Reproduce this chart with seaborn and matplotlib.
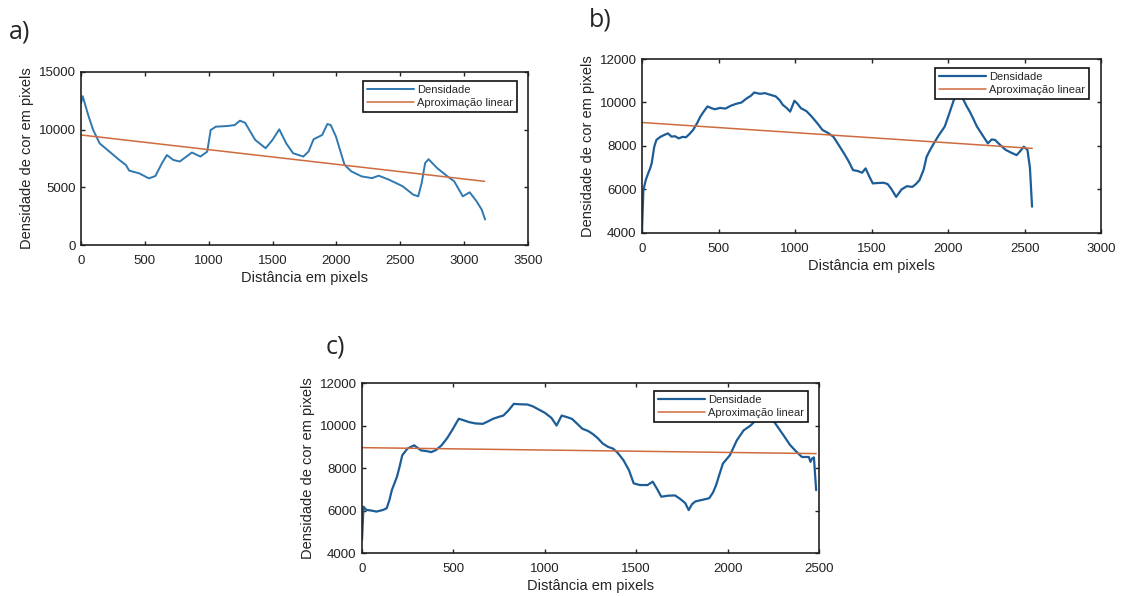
import matplotlib
matplotlib.use("Agg")
import matplotlib.pyplot as plt
import seaborn as sns
import pandas as pd

# ---------------- data ----------------
# Panel a
a_x = [0, 13, 56, 95, 146, 223, 300, 351, 377, 454, 531, 582, 633, 672, 723, 773, 868, 935,
       988, 1015, 1056, 1150, 1203, 1244, 1284, 1364, 1445, 1499, 1552, 1606, 1660, 1740,
       1781, 1821, 1888, 1929, 1955, 1996, 2063, 2117, 2197, 2278, 2331, 2412, 2519, 2600,
       2640, 2667, 2694, 2721, 2788, 2869, 2922, 2989, 3043, 3097, 3137, 3164]
a_y = [12300, 12900, 11270, 9970, 8810, 8090, 7370, 6940, 6450, 6220, 5780, 5980, 7080, 7800,
       7370, 7240, 8020, 7670, 8100, 9970, 10260, 10320, 10400, 10780, 10600, 9110, 8390,
       9110, 10030, 8820, 7960, 7670, 8100, 9170, 9540, 10490, 10400, 9400, 6950, 6380,
       5950, 5800, 6010, 5660, 5090, 4370, 4220, 5370, 7100, 7440, 6670, 5950, 5520, 4220,
       4570, 3790, 3070, 2210]
a_fit_x = [0, 3160]
a_fit_y = [9540, 5520]

# Panel b
b_x = [0, 9, 25, 40, 52, 63, 80, 94, 120, 146, 169, 193, 215, 240, 265, 287, 310, 334, 360,
       381, 405, 428, 450, 475, 510, 545, 580, 615, 650, 686, 710, 733, 770, 803, 840, 874,
       900, 920, 945, 968, 996, 1015, 1038, 1075, 1109, 1145, 1179, 1215, 1250, 1285, 1320,
       1350, 1379, 1410, 1438, 1461, 1485, 1508, 1545, 1579, 1605, 1626, 1661, 1696, 1730,
       1767, 1790, 1813, 1840, 1860, 1885, 1907, 1940, 1978, 2001, 2037, 2065, 2095, 2120,
       2142, 2165, 2189, 2225, 2260, 2285, 2307, 2340, 2377, 2410, 2448, 2470, 2495, 2519,
       2535, 2549]
b_y = [4120, 5970, 6450, 6740, 6950, 7200, 7970, 8280, 8420, 8510, 8580, 8430, 8450, 8350,
       8420, 8400, 8550, 8740, 9050, 9350, 9600, 9820, 9750, 9690, 9750, 9720, 9850, 9940,
       10000, 10200, 10300, 10460, 10400, 10430, 10350, 10280, 10100, 9890, 9750, 9580,
       10080, 9950, 9740, 9600, 9350, 9050, 8740, 8600, 8430, 8050, 7660, 7300, 6890, 6850,
       6770, 6970, 6600, 6280, 6300, 6310, 6250, 6060, 5660, 6000, 6150, 6120, 6250, 6430,
       6900, 7510, 7850, 8120, 8500, 8890, 9350, 10100, 10600, 10200, 9850, 9580, 9250, 8890,
       8500, 8120, 8300, 8280, 8050, 7820, 7700, 7580, 7750, 7970, 7820, 7000, 5210]
b_fit_x = [0, 2550]
b_fit_y = [9080, 7890]

# Panel c
c_x = [0, 8, 23, 50, 79, 116, 135, 150, 163, 191, 205, 220, 248, 285, 323, 350, 379, 405,
       435, 465, 492, 529, 555, 586, 620, 661, 690, 717, 745, 773, 800, 830, 865, 905, 935,
       961, 1000, 1036, 1064, 1092, 1120, 1149, 1175, 1205, 1235, 1261, 1290, 1317, 1345,
       1374, 1400, 1430, 1460, 1486, 1520, 1562, 1590, 1615, 1637, 1675, 1712, 1740, 1768,
       1787, 1805, 1824, 1860, 1899, 1920, 1937, 1955, 1974, 2012, 2050, 2087, 2125, 2160,
       2200, 2240, 2275, 2312, 2340, 2369, 2406, 2444, 2453, 2462, 2472, 2484]
c_y = [4620, 6180, 6030, 6000, 5950, 6030, 6110, 6500, 6960, 7590, 8050, 8600, 8910, 9070,
       8830, 8800, 8750, 8850, 9070, 9400, 9770, 10320, 10250, 10160, 10100, 10080, 10200,
       10320, 10400, 10470, 10700, 11020, 11000, 10990, 10900, 10780, 10600, 10360, 10000,
       10470, 10400, 10310, 10100, 9850, 9750, 9610, 9400, 9150, 9000, 8910, 8700, 8370,
       7900, 7280, 7200, 7200, 7360, 7000, 6650, 6700, 6710, 6550, 6350, 6020, 6300, 6430,
       6500, 6580, 6850, 7200, 7700, 8210, 8600, 9300, 9770, 10000, 10300, 10450, 10350,
       9920, 9460, 9100, 8830, 8520, 8520, 8290, 8450, 8500, 6960]
c_fit_x = [0, 2484]
c_fit_y = [8960, 8680]

legend_labels = ["Densidade", "Aproximação linear"]
xlabel = "Distância em pixels"
ylabel = "Densidade de cor em pixels"

# ---------------- style ----------------
sns.set_style("ticks")
plt.rcParams["font.family"] = ["Liberation Sans", "DejaVu Sans"]
plt.rcParams["xtick.direction"] = "in"
plt.rcParams["ytick.direction"] = "in"
plt.rcParams["xtick.top"] = True
plt.rcParams["ytick.right"] = True
plt.rcParams["axes.edgecolor"] = "#222222"
plt.rcParams["axes.linewidth"] = 1.2

BLUE_A = "#2f78b0"
BLUE_BC = "#1d5d97"
ORANGE = "#cf6a3f"

fig = plt.figure(figsize=(11.24, 5.96), dpi=100)
fig.patch.set_facecolor("white")

panels = [
    dict(rect=[0.0721, 0.5889, 0.3977, 0.2903], x=a_x, y=a_y, fx=a_fit_x, fy=a_fit_y,
         xlim=(0, 3500), xt=range(0, 3501, 500), ylim=(0, 15000), yt=range(0, 15001, 5000),
         color=BLUE_A, lw=1.4, leg=(0.975, 0.948), tag="a)", tagpos=(0.008, 0.968)),
    dict(rect=[0.5712, 0.6091, 0.4084, 0.2919], x=b_x, y=b_y, fx=b_fit_x, fy=b_fit_y,
         xlim=(0, 3000), xt=range(0, 3001, 500), ylim=(4000, 12000), yt=range(4000, 12001, 2000),
         color=BLUE_BC, lw=1.6, leg=(0.974, 0.948), tag="b)", tagpos=(0.524, 0.987)),
    dict(rect=[0.3221, 0.0721, 0.4066, 0.2852], x=c_x, y=c_y, fx=c_fit_x, fy=c_fit_y,
         xlim=(0, 2500), xt=range(0, 2501, 500), ylim=(4000, 12000), yt=range(4000, 12001, 2000),
         color=BLUE_BC, lw=1.6, leg=(0.976, 0.953), tag="c)", tagpos=(0.29, 0.438)),
]

for p in panels:
    ax = fig.add_axes(p["rect"])
    dens = pd.DataFrame({"x": p["x"], "y": p["y"]})
    fit = pd.DataFrame({"x": p["fx"], "y": p["fy"]})
    sns.lineplot(data=dens, x="x", y="y", ax=ax, color=p["color"], lw=p["lw"],
                 label=legend_labels[0], estimator=None, sort=False)
    sns.lineplot(data=fit, x="x", y="y", ax=ax, color=ORANGE, lw=1.1,
                 label=legend_labels[1], estimator=None, sort=False)
    ax.set_xlim(*p["xlim"])
    ax.set_ylim(*p["ylim"])
    ax.set_xticks(list(p["xt"]))
    ax.set_yticks(list(p["yt"]))
    ax.tick_params(labelsize=9.5, length=3, width=1, colors="#222222")
    ax.tick_params(axis="x", pad=7)
    ax.tick_params(axis="y", pad=4)
    ax.set_xlabel(xlabel, fontsize=10.5, labelpad=3, color="#222222")
    ax.set_ylabel(ylabel, fontsize=10.5, labelpad=3, color="#222222")
    for s in ax.spines.values():
        s.set_visible(True)
    leg = ax.legend(loc="upper right", bbox_to_anchor=p["leg"], borderaxespad=0,
                    fontsize=8, frameon=True, fancybox=False, handlelength=4.2,
                    handletextpad=0.3, borderpad=0.35, labelspacing=0.3)
    leg.get_frame().set_edgecolor("#111111")
    leg.get_frame().set_linewidth(1.2)
    leg.get_frame().set_alpha(1)
    fig.text(p["tagpos"][0], p["tagpos"][1], p["tag"], fontsize=18,
             family=["Open Sans", "DejaVu Sans"], va="top", ha="left")

fig.savefig("out.png", dpi=100, facecolor="white")
